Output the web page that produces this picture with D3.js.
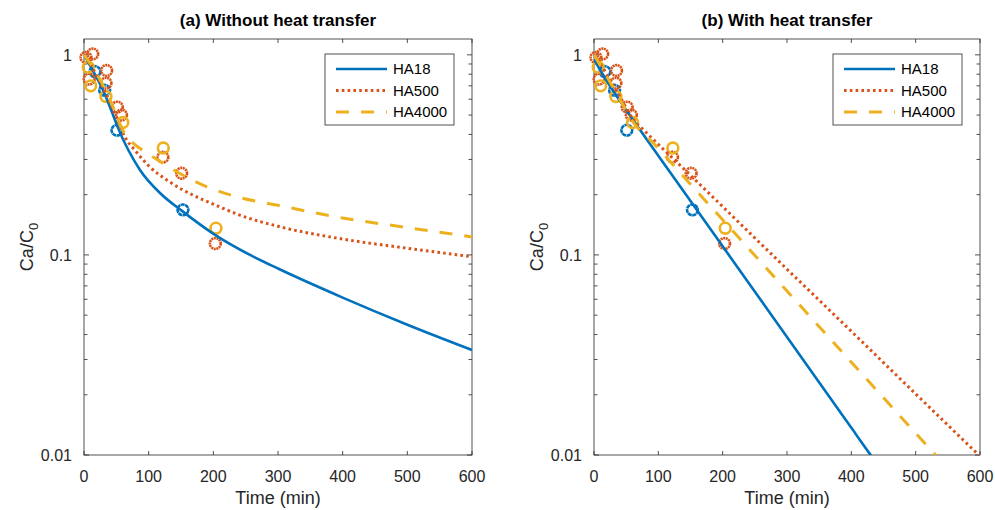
<!DOCTYPE html>
<html>
<head>
<meta charset="utf-8">
<script src="https://cdn.jsdelivr.net/npm/d3@7/dist/d3.min.js"></script>
<style>
  html, body { margin: 0; padding: 0; background: #fff; }
  svg { display: block; font-family: "Liberation Sans", Arial, Helvetica, sans-serif; }
</style>
</head>
<body>
<svg id="chart" width="995" height="510"></svg>
<script>
// ---- data ----
const seriesNames = ["HA18", "HA500", "HA4000"];
const seriesColors = ["#0072BD", "#D95319", "#EDB120"];
const xTicks = [0, 100, 200, 300, 400, 500, 600];
const yTicks = [0.01, 0.1, 1];
const yTickLabels = ["0.01", "0.1", "1"];
const panelTitles = ["(a) Without heat transfer", "(b) With heat transfer"];

// measured concentrations (circles), shared by both panels
const obsHA18T = [17, 32, 51, 153];
const obsHA18V = [0.825, 0.665, 0.42, 0.168];
const obsHA500T = [3, 8, 13.5, 34, 35, 51.5, 58, 122, 151, 203];
const obsHA500V = [0.97, 0.756, 1.01, 0.722, 0.835, 0.548, 0.50, 0.308, 0.256, 0.114];
const obsHA4000T = [6.6, 10.4, 34, 60, 122.6, 204];
const obsHA4000V = [0.868, 0.70, 0.619, 0.459, 0.342, 0.136];

// model curves, panel (a): without heat transfer
const tA18 = [0, 15, 30, 42, 52.6, 86.6, 117.5, 151.5, 202.6, 256.7, 300, 400, 500, 600];
const vA18 = [1.0, 0.82, 0.66, 0.53, 0.4315, 0.266, 0.204, 0.166, 0.126, 0.100, 0.0855, 0.0612, 0.0448, 0.0335];
const tA500 = [0, 10, 20, 30, 40, 50, 63, 80, 102, 128, 153, 179, 206, 241, 300, 400, 500, 600];
const vA500 = [1.0, 0.9, 0.78, 0.68, 0.58, 0.49, 0.39, 0.33, 0.275, 0.237, 0.211, 0.192, 0.176, 0.158, 0.139, 0.12, 0.108, 0.098];
const tA4000 = [0, 10, 20, 30, 40, 50, 60, 73, 94, 122, 153, 190, 237, 300, 400, 500, 600];
const vA4000 = [1.0, 0.9, 0.8, 0.7, 0.6, 0.5, 0.42, 0.37, 0.328, 0.288, 0.25, 0.219, 0.195, 0.177, 0.153, 0.137, 0.123];

// model curves, panel (b): with heat transfer
const tB18 = [0, 20, 50, 100, 200, 300, 400, 429, 445];
const vB18 = [0.95, 0.74, 0.53, 0.3135, 0.1104, 0.0389, 0.01367, 0.0101, 0.0086];
const tB500 = [0, 20, 40, 60, 82, 150, 269, 400, 500, 600];
const vB500 = [1.0, 0.8, 0.62, 0.48, 0.407, 0.25, 0.106, 0.0415, 0.0202, 0.00986];
const tB4000 = [0, 20, 40, 60, 92, 150, 204, 300, 400, 500, 531, 550];
const vB4000 = [1.0, 0.78, 0.6, 0.465, 0.363, 0.2254, 0.145, 0.066, 0.0291, 0.01285, 0.01, 0.00853];

// ---- layout ----
const svg = d3.select("#chart");
const plotTop = 39, plotBottom = 455;
const panels = [
  { left: 84, right: 472, title: panelTitles[0],
    curves: [[tA18, vA18], [tA500, vA500], [tA4000, vA4000]] },
  { left: 594, right: 980, title: panelTitles[1],
    curves: [[tB18, vB18], [tB500, vB500], [tB4000, vB4000]] }
];
const observations = [[obsHA18T, obsHA18V], [obsHA500T, obsHA500V], [obsHA4000T, obsHA4000V]];
const lineStyles = [
  { width: 2.6, dash: null },
  { width: 3, dash: "2.6,3.2" },
  { width: 3, dash: "13,12" }
];
const markerDash = ["4,0.5", "2,0.6", null];
const axisColor = "#262626";

panels.forEach((p, pi) => {
  const x = d3.scaleLinear().domain([0, 600]).range([p.left, p.right]);
  const y = d3.scaleLog().domain([0.01, 1.2]).range([plotBottom, plotTop]);
  const g = svg.append("g");

  const clipId = "clip" + pi;
  svg.append("clipPath").attr("id", clipId)
    .append("rect").attr("x", p.left).attr("y", plotTop)
    .attr("width", p.right - p.left).attr("height", plotBottom - plotTop);

  // minor and major ticks on y (left and right sides, inward)
  const minor = [];
  [0.01, 0.1, 1].forEach(d => { for (let k = 2; k <= 9; k++) { const v = d * k; if (v <= 1.2) minor.push(v); } });
  const tickG = g.append("g").attr("stroke", axisColor).attr("stroke-width", 0.8);
  minor.forEach(v => {
    tickG.append("line").attr("x1", p.left).attr("x2", p.left + 3.5).attr("y1", y(v)).attr("y2", y(v));
    tickG.append("line").attr("x1", p.right).attr("x2", p.right - 3.5).attr("y1", y(v)).attr("y2", y(v));
  });
  yTicks.forEach(v => {
    tickG.append("line").attr("x1", p.left).attr("x2", p.left + 5).attr("y1", y(v)).attr("y2", y(v));
    tickG.append("line").attr("x1", p.right).attr("x2", p.right - 5).attr("y1", y(v)).attr("y2", y(v));
  });
  xTicks.forEach(v => {
    tickG.append("line").attr("x1", x(v)).attr("x2", x(v)).attr("y1", plotBottom).attr("y2", plotBottom - 4);
    tickG.append("line").attr("x1", x(v)).attr("x2", x(v)).attr("y1", plotTop).attr("y2", plotTop + 4);
  });

  // axes box
  g.append("rect").attr("x", p.left).attr("y", plotTop)
    .attr("width", p.right - p.left).attr("height", plotBottom - plotTop)
    .attr("fill", "none").attr("stroke", axisColor).attr("stroke-width", 0.8);

  // tick labels
  g.selectAll(".xl").data(xTicks).enter().append("text")
    .attr("x", d => x(d)).attr("y", plotBottom + 27)
    .attr("text-anchor", "middle").attr("font-size", 16).attr("fill", axisColor)
    .text(d => d);
  g.selectAll(".yl").data(yTicks).enter().append("text")
    .attr("x", p.left - 12).attr("y", d => y(d) + 6)
    .attr("text-anchor", "end").attr("font-size", 16).attr("fill", axisColor)
    .text((d, i) => yTickLabels[i]);

  // axis titles
  g.append("text").attr("x", (p.left + p.right) / 2).attr("y", 504)
    .attr("text-anchor", "middle").attr("font-size", 18).attr("fill", axisColor)
    .text("Time (min)");
  const yl = g.append("text")
    .attr("transform", `translate(${p.left - 51},${(plotTop + plotBottom) / 2}) rotate(-90)`)
    .attr("text-anchor", "middle").attr("font-size", 18).attr("fill", axisColor);
  yl.append("tspan").text("Ca/C");
  yl.append("tspan").attr("font-size", 13).attr("dy", 5).text("0");

  // panel title
  g.append("text").attr("x", (p.left + p.right) / 2).attr("y", 26)
    .attr("text-anchor", "middle").attr("font-size", 17).attr("font-weight", "bold")
    .attr("fill", "#000").text(p.title);

  // measured points
  observations.forEach((obs, si) => {
    const pts = obs[0].map((t, i) => [t, obs[1][i]]);
    g.append("g").selectAll("circle").data(pts).enter().append("circle")
      .attr("cx", d => x(d[0])).attr("cy", d => y(d[1])).attr("r", 5.4)
      .attr("fill", "none").attr("stroke", seriesColors[si]).attr("stroke-width", 2.6)
      .attr("stroke-dasharray", markerDash[si]);
  });

  // model curves
  const line = d3.line().x(d => x(d[0])).y(d => y(d[1])).curve(d3.curveMonotoneX);
  p.curves.forEach((c, si) => {
    const pts = c[0].map((t, i) => [t, c[1][i]]);
    const st = lineStyles[si];
    g.append("path").datum(pts).attr("d", line)
      .attr("clip-path", `url(#${clipId})`)
      .attr("fill", "none").attr("stroke", seriesColors[si])
      .attr("stroke-width", st.width)
      .attr("stroke-dasharray", st.dash);
  });

  // legend
  const lx = p.right - 147, ly = 54;
  const lg = g.append("g");
  lg.append("rect").attr("x", lx).attr("y", ly).attr("width", 129).attr("height", 71)
    .attr("fill", "#fff").attr("stroke", axisColor).attr("stroke-width", 0.8);
  seriesNames.forEach((name, si) => {
    const yy = ly + 15 + si * 21.5;
    const st = lineStyles[si];
    lg.append("line").attr("x1", lx + 11).attr("x2", lx + 62).attr("y1", yy).attr("y2", yy)
      .attr("stroke", seriesColors[si]).attr("stroke-width", st.width)
      .attr("stroke-dasharray", st.dash);
    lg.append("text").attr("x", lx + 68).attr("y", yy + 5)
      .attr("font-size", 15).attr("fill", "#000").text(name);
  });
});
</script>
</body>
</html>
